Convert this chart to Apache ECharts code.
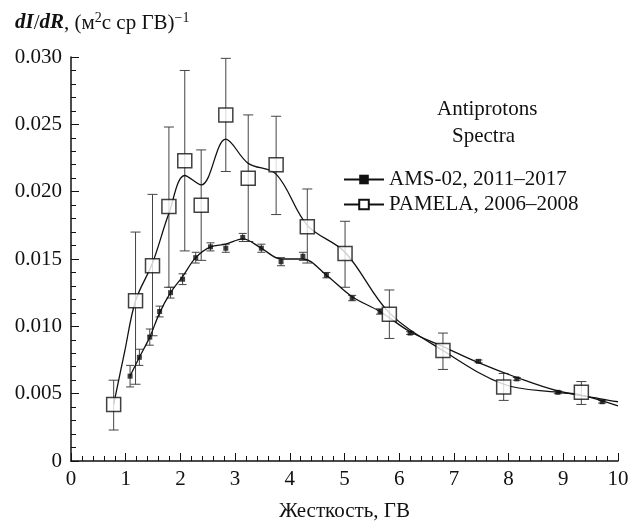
<!DOCTYPE html>
<html lang="ru">
<head>
    <meta charset="UTF-8">
    <script src="https://cdn.jsdelivr.net/npm/echarts@6/dist/echarts.min.js"></script>
    <style>
        body, html {
            margin: 0;
            height: 100%;
            background: #fff;
        }

        #main {
            width: 634px;
            height: 527px;
        }
    </style>
    <title>Antiprotons</title>
</head>
<body>

<div id="main"></div>
<script type="text/javascript">
    const myChart = echarts.init(document.getElementById('main'));

    // AMS-02 точки (жесткость, поток, ошибка)
    const amsX = [1.08, 1.25, 1.44, 1.62, 1.82, 2.04, 2.28, 2.55, 2.83, 3.14, 3.48, 3.84, 4.24, 4.67, 5.14, 5.65, 6.2, 7.45, 8.15, 8.9, 9.71];
    const amsY = [0.0063, 0.0077, 0.0092, 0.0111, 0.0125, 0.0135, 0.0151, 0.0159, 0.0158, 0.0166, 0.0158, 0.0148, 0.0152, 0.0138, 0.0121, 0.0111, 0.0095, 0.0074, 0.0061, 0.0051, 0.0044];
    const amsErr = [0.0008, 0.0006, 0.0006, 0.0004, 0.0004, 0.0004, 0.0004, 0.0003, 0.0003, 0.0003, 0.0003, 0.0003, 0.0003, 0.0002, 0.0002, 0.0002, 0.0001, 0.0001, 0.0001, 0.0001, 0.0001];

    // PAMELA точки (с несимметричными ошибками)
    const pamX = [0.78, 1.18, 1.49, 1.79, 2.08, 2.38, 2.83, 3.24, 3.75, 4.32, 5.01, 5.82, 6.80, 7.91, 9.33];
    const pamY = [0.0042, 0.0119, 0.0145, 0.0189, 0.0223, 0.0190, 0.0257, 0.0210, 0.0220, 0.0174, 0.0154, 0.0109, 0.0082, 0.0055, 0.0051];
    const pamHi = [0.0060, 0.0170, 0.0198, 0.0248, 0.0290, 0.0231, 0.0299, 0.0257, 0.0256, 0.0202, 0.0178, 0.0127, 0.0095, 0.0065, 0.0059];
    const pamLo = [0.0023, 0.0057, 0.0093, 0.0129, 0.0156, 0.0149, 0.0215, 0.0163, 0.0183, 0.0147, 0.0129, 0.0091, 0.0068, 0.0045, 0.0042];

    // аппроксимирующие кривые
    const amsFitX = [1.08, 1.25, 1.44, 1.62, 1.82, 2.04, 2.28, 2.55, 2.83, 3.14, 3.48, 3.84, 4.24, 4.67, 5.14, 5.65, 6.2, 6.8, 7.45, 8.15, 8.9, 9.71, 10];
    const amsFitY = [0.0063, 0.0077, 0.0092, 0.0110, 0.0125, 0.0137, 0.0151, 0.0159, 0.0161, 0.0165, 0.0158, 0.0150, 0.0150, 0.0138, 0.0122, 0.0111, 0.0096, 0.0085, 0.0073, 0.0062, 0.0052, 0.0046, 0.0044];
    const pamFitX = [0.78, 0.98, 1.18, 1.49, 1.79, 2.08, 2.38, 2.83, 3.24, 3.75, 4.32, 5.01, 5.82, 6.8, 7.91, 8.9, 9.33, 10];
    const pamFitY = [0.0042, 0.0081, 0.0119, 0.0147, 0.0184, 0.0212, 0.0205, 0.0239, 0.0221, 0.0213, 0.0175, 0.0155, 0.0110, 0.0082, 0.0057, 0.0051, 0.0049, 0.0041];

    const font = 'Liberation Serif';

    const zip = (xs, ys) => xs.map((x, i) => [x, ys[i]]);

    function errorBars(cap) {
        return function (params, api) {
            const top = api.coord([api.value(0), api.value(2)]);
            const bot = api.coord([api.value(0), api.value(1)]);
            const style = {stroke: '#444', lineWidth: 1};
            return {
                type: 'group',
                children: [
                    {type: 'line', shape: {x1: top[0], y1: top[1], x2: bot[0], y2: bot[1]}, style: style},
                    {type: 'line', shape: {x1: top[0] - cap, y1: top[1], x2: top[0] + cap, y2: top[1]}, style: style},
                    {type: 'line', shape: {x1: bot[0] - cap, y1: bot[1], x2: bot[0] + cap, y2: bot[1]}, style: style}
                ]
            };
        };
    }

    const option = {
        animation: false,
        textStyle: {fontFamily: font, fontStyle: 'normal'},
        grid: {left: 71, right: 16, top: 57, bottom: 63},
        title: {
            text: '{i|dI}/{i|dR}, (м{s|2}с ср ГВ){s|−1}',
            left: 10,
            top: 6,
            textStyle: {
                fontFamily: font,
                fontStyle: 'normal',
                fontWeight: 'normal',
                fontSize: 21,
                color: '#111',
                rich: {
                    i: {fontFamily: font, fontStyle: 'italic', fontWeight: 'bold', fontSize: 21, color: '#111'},
                    s: {fontFamily: font, fontSize: 14, verticalAlign: 'top', padding: [0, 0, 10, 0], color: '#111'}
                }
            }
        },
        graphic: [
            {type: 'text', left: 437, top: 99, style: {text: 'Antiprotons', font: 'normal 21px "Liberation Serif"', fill: '#111'}},
            {type: 'text', left: 452, top: 126, style: {text: 'Spectra', font: 'normal 21px "Liberation Serif"', fill: '#111'}}
        ],
        legend: {
            left: 338,
            top: 164,
            orient: 'vertical',
            itemWidth: 40,
            itemHeight: 12,
            itemGap: 4,
            data: ['AMS-02, 2011–2017', 'PAMELA, 2006–2008'],
            textStyle: {fontFamily: font, fontStyle: 'normal', fontSize: 21, color: '#111'}
        },
        xAxis: {
            type: 'value',
            min: 0,
            max: 10,
            interval: 1,
            name: 'Жесткость, ГВ',
            nameLocation: 'middle',
            nameGap: 40,
            nameTextStyle: {fontFamily: font, fontStyle: 'normal', fontSize: 21, color: '#111'},
            axisLine: {lineStyle: {color: '#111', width: 1.5}},
            axisTick: {inside: true, length: 8, lineStyle: {color: '#111'}},
            minorTick: {show: true, splitNumber: 5, length: 5, lineStyle: {color: '#111'}},
            splitLine: {show: false},
            axisLabel: {fontFamily: font, fontSize: 21, color: '#111', margin: 8}
        },
        yAxis: {
            type: 'value',
            min: 0,
            max: 0.03,
            interval: 0.005,
            axisLine: {show: true, lineStyle: {color: '#111', width: 1.5}},
            axisTick: {show: true, inside: true, length: 8, lineStyle: {color: '#111'}},
            minorTick: {show: true, splitNumber: 5, length: 5, lineStyle: {color: '#111'}},
            splitLine: {show: false},
            axisLabel: {
                fontFamily: font, fontSize: 21, color: '#111', margin: 9,
                formatter: function (v) { return v === 0 ? '0' : v.toFixed(3); }
            }
        },
        series: [
            {
                name: 'ams-err',
                type: 'custom',
                renderItem: errorBars(4),
                data: amsX.map((x, i) => [x, amsY[i] - amsErr[i], amsY[i] + amsErr[i]]),
                z: 2
            },
            {
                name: 'pam-err',
                type: 'custom',
                renderItem: errorBars(5),
                data: pamX.map((x, i) => [x, pamLo[i], pamHi[i]]),
                z: 2
            },
            {
                name: 'AMS-02, 2011–2017',
                type: 'line',
                smooth: 0.35,
                data: zip(amsFitX, amsFitY),
                showSymbol: false,
                symbol: 'rect',
                symbolSize: 5,
                itemStyle: {color: '#111'},
                lineStyle: {color: '#111', width: 1.3},
                z: 3
            },
            {
                name: 'PAMELA, 2006–2008',
                type: 'line',
                smooth: 0.35,
                data: zip(pamFitX, pamFitY),
                showSymbol: false,
                symbol: 'rect',
                symbolSize: 11,
                itemStyle: {color: '#fff', borderColor: '#111', borderWidth: 1.3},
                lineStyle: {color: '#111', width: 1.3},
                z: 3
            },
            {
                name: 'ams-pts',
                type: 'scatter',
                symbol: 'rect',
                symbolSize: 5,
                data: zip(amsX, amsY),
                itemStyle: {color: '#111'},
                z: 4
            },
            {
                name: 'pam-pts',
                type: 'scatter',
                symbol: 'rect',
                symbolSize: 14,
                data: zip(pamX, pamY),
                itemStyle: {color: '#fff', borderColor: '#111', borderWidth: 1.5},
                z: 5
            }
        ]
    };
    myChart.setOption(option);
</script>
</body>
</html>
